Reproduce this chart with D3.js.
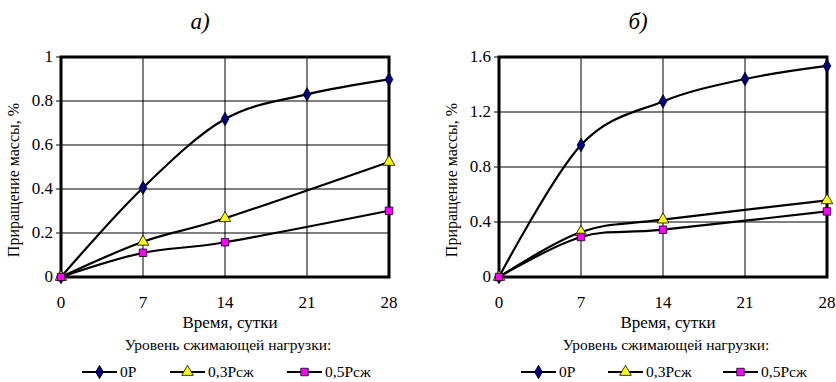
<!DOCTYPE html>
<html>
<head>
<meta charset="utf-8">
<script src="https://cdn.jsdelivr.net/npm/d3@7"></script>
</head>
<body style="margin:0;background:#fff">
<script>
// values
const days = [0, 7, 14, 21, 28];
const seriesNames = ["0P", "0,3Рсж", "0,5Рсж"];

const p0A  = [0, 0.406, 0.718, 0.83, 0.898];
const p03A = [0, 0.16, 0.267, null, 0.523];
const p05A = [0, 0.11, 0.158, null, 0.301];

const p0B  = [0, 0.96, 1.277, 1.44, 1.535];
const p03B = [0, 0.327, 0.417, null, 0.557];
const p05B = [0, 0.291, 0.344, null, 0.477];

const yTicksA = [0, 0.2, 0.4, 0.6, 0.8, 1];
const yTicksB = [0, 0.4, 0.8, 1.2, 1.6];

const serif = "'Liberation Serif', 'Times New Roman', Times, serif";

const markerStyle = [
  {type: d3.symbolDiamond, fill: "#000080", size: 52},
  {type: d3.symbolTriangle, fill: "#ffff00", size: 58},
  {type: d3.symbolSquare, fill: "#ff00ff", size: 56}
];

const svg = d3.select("body").append("svg")
  .attr("width", 836).attr("height", 382)
  .attr("font-family", serif)
  .style("display", "block");
svg.append("rect").attr("width", 836).attr("height", 382).attr("fill", "#fff");

function txt(g, size) {
  return g.append("text")
    .attr("font-family", serif).attr("font-size", size)
    .attr("fill", "#000");
}

function panel(opts) {
  const g = svg.append("g");
  const x = d3.scaleLinear().domain([0, 28]).range([opts.left, opts.right]);
  const y = d3.scaleLinear().domain([0, opts.ymax]).range([277, 57]);

  // title
  txt(g, 23)
    .attr("x", opts.titleX).attr("y", 29)
    .attr("text-anchor", "middle")
    .attr("font-style", "italic")
    .text(opts.title);

  // grid
  g.selectAll(".vg").data(days).enter().append("line")
    .attr("x1", d => x(d)).attr("x2", d => x(d))
    .attr("y1", y(0)).attr("y2", y(opts.ymax))
    .attr("stroke", "#000").attr("stroke-width", 1);
  g.selectAll(".hg").data(opts.yTicks).enter().append("line")
    .attr("x1", x(0) - 5).attr("x2", x(28))
    .attr("y1", d => y(d)).attr("y2", d => y(d))
    .attr("stroke", "#000").attr("stroke-width", 1);

  // frame
  g.append("rect")
    .attr("x", x(0)).attr("y", y(opts.ymax))
    .attr("width", x(28) - x(0)).attr("height", y(0) - y(opts.ymax))
    .attr("fill", "none").attr("stroke", "#000").attr("stroke-width", 3);

  // tick labels
  opts.yTicks.forEach(d => {
    txt(g, 17).attr("x", x(0) - 8).attr("y", y(d) + 5)
      .attr("text-anchor", "end").text(d3.format("")(d));
  });
  days.forEach(d => {
    txt(g, 17).attr("x", x(d)).attr("y", 308)
      .attr("text-anchor", "middle").text(d);
  });

  txt(g, 17)
    .attr("x", opts.xTitleX).attr("y", 328)
    .attr("text-anchor", "middle")
    .text("Время, сутки");
  txt(g, 16)
    .attr("transform", `translate(${opts.yTitleX},180) rotate(-90)`)
    .attr("text-anchor", "middle")
    .text("Приращение массы, %");
  txt(g, 15.5)
    .attr("x", opts.xTitleX - 2).attr("y", 350)
    .attr("text-anchor", "middle")
    .text("Уровень сжимающей нагрузки:");

  const line = d3.line()
    .x(d => x(d[0])).y(d => y(d[1]))
    .curve(d3.curveCatmullRom.alpha(0));

  opts.series.forEach((vals, i) => {
    const pts = days.map((d, j) => [d, vals[j]]).filter(p => p[1] != null);
    g.append("path").datum(pts)
      .attr("d", line)
      .attr("fill", "none").attr("stroke", "#000").attr("stroke-width", 2.2);
  });
  opts.series.forEach((vals, i) => {
    const pts = days.map((d, j) => [d, vals[j]]).filter(p => p[1] != null);
    const m = markerStyle[i];
    g.selectAll(".m" + i).data(pts).enter().append("path")
      .attr("transform", p => `translate(${x(p[0])},${y(p[1])})`)
      .attr("d", d3.symbol().type(m.type).size(m.size))
      .attr("fill", m.fill).attr("stroke", "#000").attr("stroke-width", 0.8);
  });

  // legend
  opts.legendX.forEach((lx, i) => {
    const m = markerStyle[i];
    g.append("line")
      .attr("x1", lx).attr("x2", lx + 35)
      .attr("y1", 372).attr("y2", 372)
      .attr("stroke", "#000").attr("stroke-width", 2.2);
    g.append("path")
      .attr("transform", `translate(${lx + 17.5},372)`)
      .attr("d", d3.symbol().type(m.type).size(m.size))
      .attr("fill", m.fill).attr("stroke", "#000").attr("stroke-width", 0.8);
    txt(g, 15.5)
      .attr("x", lx + 38).attr("y", 377)
      .text(seriesNames[i]);
  });
}

panel({
  title: "а)", titleX: 200, left: 61, right: 389, ymax: 1, yTicks: yTicksA,
  xTitleX: 230, yTitleX: 19, legendX: [82, 170, 287],
  series: [p0A, p03A, p05A]
});
panel({
  title: "б)", titleX: 638, left: 499, right: 827, ymax: 1.6, yTicks: yTicksB,
  xTitleX: 668, yTitleX: 457, legendX: [521, 608, 723],
  series: [p0B, p03B, p05B]
});
</script>
</body>
</html>
